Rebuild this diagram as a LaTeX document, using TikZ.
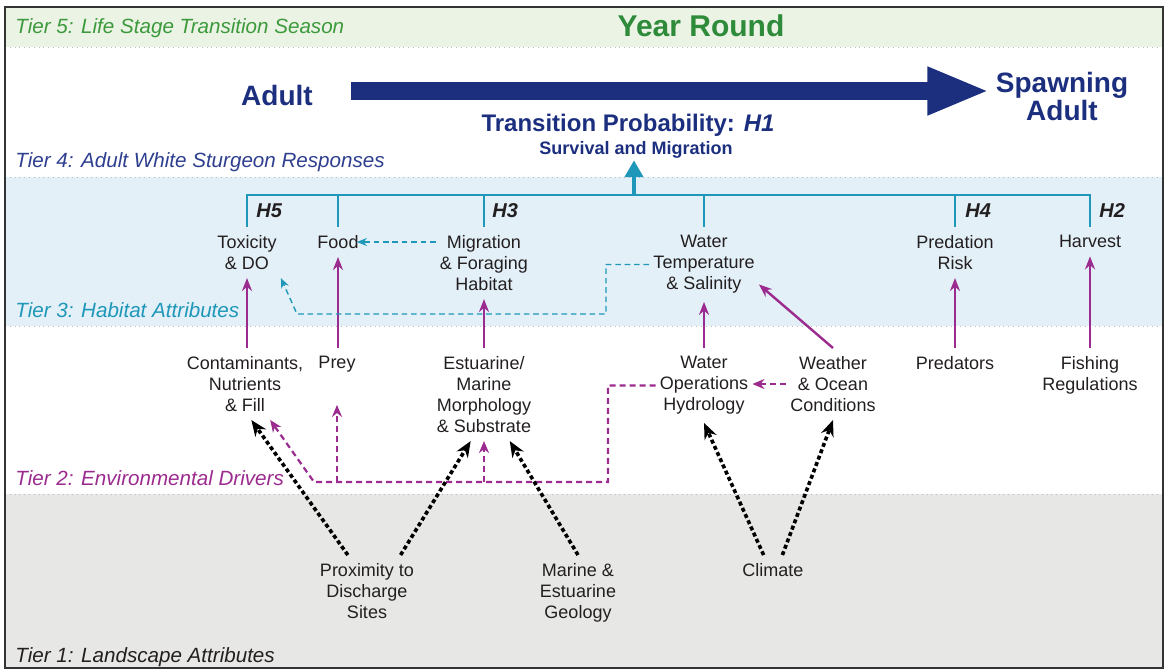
\documentclass[tikz,border=0pt]{standalone}
\usepackage{fontspec}
\setmainfont{Liberation Sans}
\usepackage{xcolor}
\usepackage{tikz}
\usetikzlibrary{arrows.meta,calc}
\definecolor{cNavy}{HTML}{1B2F7E}
\definecolor{cNavyLt}{HTML}{2E3F8F}
\definecolor{cTeal}{HTML}{1E97B9}
\definecolor{cPurple}{HTML}{9B2B8E}
\definecolor{cGreen}{HTML}{3C9A3C}
\definecolor{cGreenDk}{HTML}{2E8B3A}
\definecolor{cBandG}{HTML}{EBF3E4}
\definecolor{cBandB}{HTML}{E3F0F8}
\definecolor{cBandK}{HTML}{E7E7E5}
\definecolor{cInk}{HTML}{231F20}
\definecolor{cFrame}{HTML}{333333}

\begin{document}
\begin{tikzpicture}[x=0.5pt, y=-0.5pt, >=Stealth,
    txt/.style={align=center, anchor=north, inner xsep=2pt, inner ysep=4pt, text=cInk, font=\fontsize{9}{10.5}\selectfont},
    tier/.style={anchor=base west, inner sep=0pt, font=\itshape\fontsize{10.3}{12}\selectfont},
    hyp/.style={anchor=base west, inner sep=0pt, text=cInk, font=\bfseries\itshape\fontsize{10}{12}\selectfont},
    big/.style={inner sep=1pt, text=cNavy, font=\bfseries\fontsize{14}{12.5}\selectfont},
    solidP/.style={cPurple, line width=1.2pt, -{Stealth[length=6.5pt,width=5pt]}},
    dashP/.style={cPurple, line width=1.1pt, dash pattern=on 3pt off 2pt, -{Stealth[length=6pt,width=5pt]}},
    dashT/.style={cTeal, line width=0.7pt, dash pattern=on 2.8pt off 1.9pt, -{Stealth[length=5pt,width=4pt]}},
    dotK/.style={black, line width=1.8pt, dash pattern=on 2pt off 1.4pt, -{Stealth[length=8pt,width=6.5pt]}},
    bandline/.style={gray!55, line width=0.4pt, dotted}]
  \useasboundingbox (0,0) rectangle (1168,671);
  % bands
  \fill[cBandG] (5,7) rectangle (1163,47);
  \fill[cBandB] (5,177) rectangle (1163,326);
  \fill[cBandK] (5,494) rectangle (1163,668);
  \foreach \yy in {47,177,326,494} \draw[bandline] (5,\yy) -- (1163,\yy);
  \draw[cFrame, line width=1.4pt] (5,7) rectangle (1163,668);

  \node[tier, text=cGreen] (t5) at (15,33) {Tier 5: Life Stage Transition Season};
  \node[tier, text=cNavyLt] (t4) at (15,167) {Tier 4: Adult White Sturgeon Responses};
  \node[tier, text=cTeal] (t3) at (15,317) {Tier 3: Habitat Attributes};
  \node[tier, text=cPurple] (t2) at (15,485) {Tier 2: Environmental Drivers};
  \node[tier, text=cInk] (t1) at (15,662) {Tier 1: Landscape Attributes};

  % tier 5 and 4
  \node[anchor=base, inner sep=1pt, text=cGreenDk, font=\bfseries\fontsize{15}{18}\selectfont] (season) at (701,36) {Year Round};
  \node[big, anchor=base] (adult) at (277,105) {Adult};
  \node[big, anchor=north, align=center] (spawn) at (1062,70) {Spawning\\Adult};
  \draw[cNavy, line width=9pt, -{Triangle[length=31pt,width=22pt]}, shorten <=18pt, shorten >=2pt]
    ([yshift=2pt]adult.east) -- ([yshift=2pt]adult.east -| spawn.west);
  \node[anchor=base, text=cNavy, font=\bfseries\fontsize{12}{14}\selectfont] (trans) at (628,131) {Transition Probability: \textit{H1}};
  \node[anchor=base, inner sep=1pt, text=cNavy, font=\bfseries\fontsize{9}{11}\selectfont] (surv) at (636,154) {Survival and Migration};

  % tier 3
  \node[txt] (tox) at (247,227) {Toxicity\\\& DO};
  \node[txt] (food) at (338,227) {Food};
  \node[txt] (migr) at (484,227) {Migration\\\& Foraging\\Habitat};
  \node[txt] (wtemp) at (704,227) {Water\\Temperature\\\& Salinity};
  \node[txt] (pred) at (955,227) {Predation\\Risk};
  \node[txt] (harv) at (1090,227) {Harvest};

  \coordinate (hub) at (634,195);
  \draw[cTeal, line width=1.2pt] (tox.north) |- (hub) -| (harv.north);
  \foreach \n in {food,migr,wtemp,pred} \draw[cTeal, line width=1.2pt] (\n.north) -- (\n.north |- hub);
  \draw[cTeal, line width=2.4pt, -{Triangle[length=8.5pt,width=9pt]}] (hub) -- (hub |- surv.south);
  \node[hyp] (h5) at (256,217) {H5};
  \node[hyp] (h3) at (492,217) {H3};
  \node[hyp] (h4) at (965,217) {H4};
  \node[hyp] (h2) at (1099,217) {H2};

  % tier 2
  \node[txt] (cont) at (245,348) {Contaminants,\\Nutrients\\\& Fill};
  \node[txt] (prey) at (337,348) {Prey};
  \node[txt] (est) at (484,348) {Estuarine/\\Marine\\Morphology\\\& Substrate};
  \node[txt] (wops) at (704,348) {Water\\Operations\\Hydrology};
  \node[txt] (weat) at (833,348) {Weather\\\& Ocean\\Conditions};
  \node[txt] (preds) at (955,348) {Predators};
  \node[txt] (fish) at (1090,348) {Fishing\\Regulations};

  % tier 1
  \node[txt] (prox) at (367,555) {Proximity to\\Discharge\\Sites};
  \node[txt] (geo) at (578,555) {Marine \&\\Estuarine\\Geology};
  \node[txt] (clim) at (773,555) {Climate};

  % links
  \draw[solidP] (tox.south |- cont.north) -- (tox.south);
  \draw[solidP] (food.south |- prey.north) -- (food.south);
  \draw[solidP] (est.north) -- (migr.south);
  \draw[solidP] (wops.north) -- (wtemp.south);
  \draw[solidP] (weat.north) -- (wtemp.-20);
  \draw[solidP] (preds.north) -- (pred.south);
  \draw[solidP] (fish.north) -- (harv.south);

  \coordinate (tj) at (606,314);
  \coordinate (tcorner) at (297,314);
  \coordinate (pj) at (608,482);
  \coordinate (pcorner) at (314,482);
  \draw[dashT, shorten >=-3pt] (migr.west |- food.east) -- (food.east);
  \draw[dashT] (wtemp.west) -| (tj) -- (tcorner) -- (tox.south east);
  \draw[dashP] (wops.west) -| (pj) -- (pcorner) -- (cont.-55);
  \draw[dashP, shorten >=12pt] (prey.south |- pj) -- (prey.south);
  \draw[dashP] (est.south |- pj) -- (est.south);
  \draw[dashP] (weat.west) -- (weat.west -| wops.east);

  \draw[dotK] (prox.118) -- (cont.-80);
  \draw[dotK] (prox.47) -- (est.-106);
  \draw[dotK] (geo.north) -- (est.-61);
  \draw[dotK] (clim.122) -- (wops.south);
  \draw[dotK] (clim.58) -- (weat.south);
\end{tikzpicture}
\end{document}
